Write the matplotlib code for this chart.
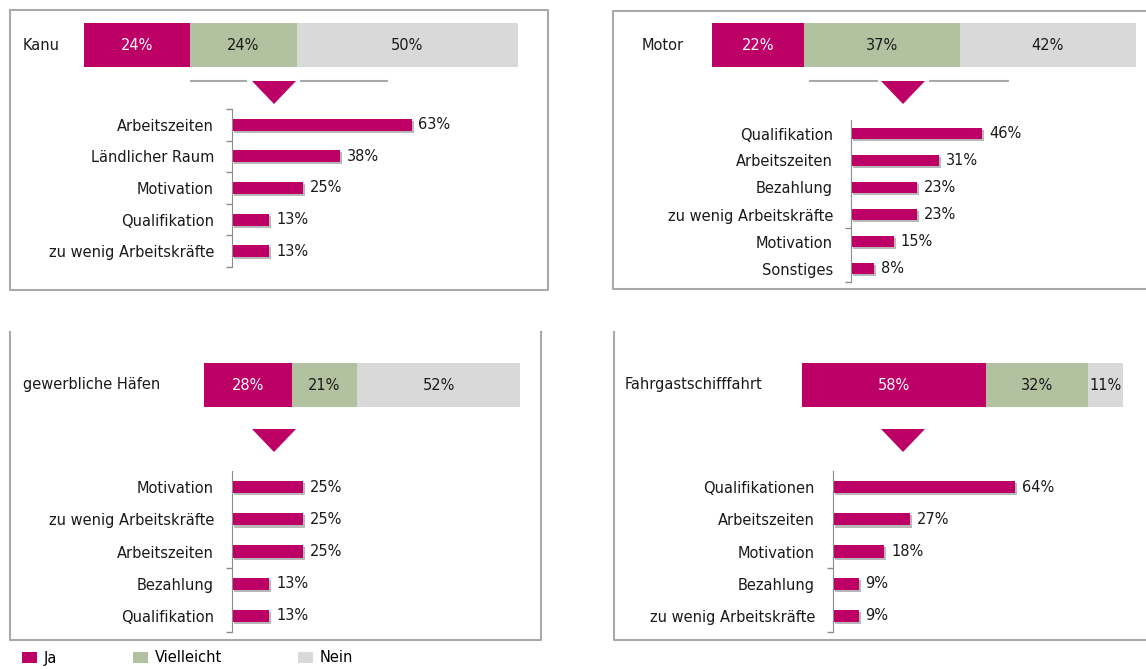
import matplotlib
matplotlib.use('Agg')
import matplotlib.pyplot as plt
import matplotlib.patheffects as pe
from matplotlib.lines import Line2D
from matplotlib.patches import Polygon, Patch

# --- Data ---
answer_labels = ['Ja', 'Vielleicht', 'Nein']

kanu_split = [24, 24, 50]
kanu_reasons = ['Arbeitszeiten', 'Ländlicher Raum', 'Motivation', 'Qualifikation', 'zu wenig Arbeitskräfte']
kanu_values = [63, 38, 25, 13, 13]

motor_split = [22, 37, 42]
motor_reasons = ['Qualifikation', 'Arbeitszeiten', 'Bezahlung', 'zu wenig Arbeitskräfte', 'Motivation', 'Sonstiges']
motor_values = [46, 31, 23, 23, 15, 8]

haefen_split = [28, 21, 52]
haefen_reasons = ['Motivation', 'zu wenig Arbeitskräfte', 'Arbeitszeiten', 'Bezahlung', 'Qualifikation']
haefen_values = [25, 25, 25, 13, 13]

fahrgast_split = [58, 32, 11]
fahrgast_reasons = ['Qualifikationen', 'Arbeitszeiten', 'Motivation', 'Bezahlung', 'zu wenig Arbeitskräfte']
fahrgast_values = [64, 27, 18, 9, 9]

# --- Style ---
W, H = 1146, 669
MAGENTA = '#bc0066'
GREEN = '#b2c1a0'
LIGHT = '#d9d9d9'
FRAME = '#a9a9a9'
AXIS = '#8c8c8c'
TEXT = '#1a1a1a'
FS = 10.5

plt.rcParams['font.family'] = 'DejaVu Sans'
plt.rcParams['font.size'] = FS

fig = plt.figure(figsize=(W / 100, H / 100), dpi=100)
fig.patch.set_facecolor('white')

shadow = [pe.SimplePatchShadow(offset=(1.5, -1.5), shadow_rgbFace='#9a9a9a', alpha=0.7), pe.Normal()]


def fx(x):
    return x / W


def fy(y):
    return 1 - y / H


def box(x0, y0, x1, y1):
    # pixel coords, origin top-left -> figure fraction rect
    return [fx(x0), fy(y1), (x1 - x0) / W, (y1 - y0) / H]


def line(xs, ys, color=FRAME, lw=1.5):
    fig.add_artist(Line2D([fx(x) for x in xs], [fy(y) for y in ys], color=color, lw=lw))


def triangle(cx, top, half=22, depth=23):
    pts = [(fx(cx - half), fy(top)), (fx(cx + half), fy(top)), (fx(cx), fy(top + depth))]
    fig.add_artist(Polygon(pts, closed=True, facecolor=MAGENTA, edgecolor='none'))


def split_bar(rect, name, split, name_x):
    ax = fig.add_axes(box(*rect))
    left = 0
    for v, c, tc in zip(split, [MAGENTA, GREEN, LIGHT], ['white', TEXT, TEXT]):
        b = ax.barh(0, v, left=left, height=1, color=c, edgecolor='none', path_effects=shadow)
        ax.bar_label(b, labels=[f'{v}%'], label_type='center', color=tc, fontsize=FS)
        left += v
    ax.set_xlim(0, sum(split))
    ax.set_ylim(-0.5, 0.5)
    ax.axis('off')
    fig.text(fx(name_x), fy((rect[1] + rect[3]) / 2), name, ha='left', va='center',
             color=TEXT, fontsize=FS)


def reason_chart(rect, reasons, values, tick_bounds):
    ax = fig.add_axes(box(*rect))
    ypos = list(range(len(reasons)))
    bars = ax.barh(ypos, values, height=0.38, color=MAGENTA, path_effects=shadow)
    ax.bar_label(bars, labels=[f'{v}%' for v in values], padding=5, color=TEXT, fontsize=FS)
    ax.set_xlim(0, 100)
    ax.set_ylim(len(reasons) - 0.5, -0.5)
    ax.set_yticks(ypos, reasons)
    ax.set_yticks(tick_bounds, minor=True)
    ax.tick_params(axis='y', which='major', length=0, pad=13, labelcolor=TEXT, labelsize=FS)
    ax.tick_params(axis='y', which='minor', length=4, color=AXIS, width=1)
    ax.set_xticks([])
    for s in ['top', 'right', 'bottom']:
        ax.spines[s].set_visible(False)
    ax.spines['left'].set_color(AXIS)
    ax.patch.set_visible(False)


# --- Panel frames ---
line([10, 548, 548, 10, 10], [10, 10, 290, 290, 10])
line([1150, 613, 613, 1150], [11, 11, 289, 289])
line([10, 10, 541, 541], [332, 640, 640, 332])
line([614, 614, 1150], [332, 640, 640])

# --- Kanu ---
split_bar((84, 23, 518, 67), 'Kanu', kanu_split, 23)
line([191, 246], [81, 81], lw=1.5)
line([301, 387], [81, 81], lw=1.5)
triangle(274, 81)
reason_chart((232, 109, 517, 267), kanu_reasons, kanu_values, [-0.5, 0.5, 1.5, 2.5, 3.5, 4.5])

# --- Motor ---
split_bar((712, 23, 1136, 67), 'Motor', motor_split, 642)
line([810, 877], [81, 81], lw=1.5)
line([930, 1008], [81, 81], lw=1.5)
triangle(903, 81)
reason_chart((851, 120, 1136, 282), motor_reasons, motor_values, [3.5, 5.5])

# --- gewerbliche Häfen ---
split_bar((204, 363, 520, 407), 'gewerbliche Häfen', haefen_split, 23)
triangle(274, 429)
reason_chart((232, 471, 517, 632), haefen_reasons, haefen_values, [2.5, 4.5])

# --- Fahrgastschifffahrt ---
split_bar((802, 363, 1123, 407), 'Fahrgastschifffahrt', fahrgast_split, 625)
triangle(903, 429)
reason_chart((833, 471, 1118, 632), fahrgast_reasons, fahrgast_values, [2.5, 4.5])

# --- Legend ---
handles = [Patch(facecolor=c, edgecolor='none', label=l)
           for c, l in zip([MAGENTA, GREEN, LIGHT], answer_labels)]
fig.legend(handles=handles, loc='center left', bbox_to_anchor=(fx(22), fy(658)), ncol=3,
           frameon=False, handlelength=1.0, handleheight=0.8, handletextpad=0.5,
           columnspacing=5.2, fontsize=FS, borderaxespad=0, borderpad=0)

fig.savefig('out.png', dpi=100)
